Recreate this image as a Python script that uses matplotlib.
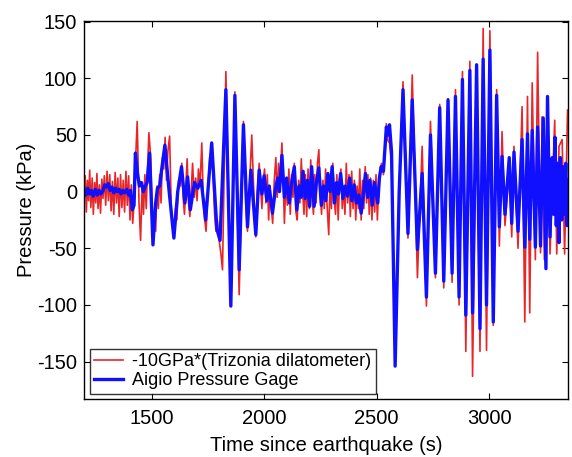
import matplotlib
matplotlib.use("Agg")
import matplotlib.pyplot as plt

plt.rcParams['font.family'] = ['Liberation Sans', 'DejaVu Sans']
plt.rcParams['axes.unicode_minus'] = False

# Aigio pressure gage (turning points: time s, pressure kPa)
gage_t = [1200, 1208, 1216, 1224, 1232, 1240, 1250, 1258, 1266, 1274, 1282, 1292, 1300, 1308,
          1316, 1324, 1332, 1340, 1348, 1356, 1364, 1372, 1380, 1390, 1398, 1406, 1414, 1422,
          1428, 1438, 1446, 1455, 1463, 1472, 1480, 1491, 1506, 1518, 1526, 1536, 1545, 1559,
          1578, 1599, 1616, 1633, 1648, 1660, 1672, 1690, 1705, 1720, 1740, 1767, 1790, 1804,
          1830, 1852, 1870, 1889, 1908, 1926, 1941, 1963, 1978, 1990, 2000, 2012, 2022, 2037,
          2050, 2060, 2068, 2079, 2090, 2100, 2112, 2122, 2134, 2145, 2156, 2164, 2173, 2182,
          2192, 2202, 2211, 2222, 2232, 2243, 2254, 2264, 2274, 2283, 2293, 2302, 2312, 2322,
          2330, 2340, 2350, 2360, 2370, 2380, 2390, 2400, 2410, 2421, 2431, 2442, 2450, 2460,
          2470, 2480, 2490, 2505, 2512, 2520, 2530, 2543, 2550, 2557, 2566, 2582, 2600, 2617,
          2639, 2658, 2681, 2702, 2721, 2739, 2761, 2780, 2798, 2817, 2835, 2850, 2866, 2881,
          2896, 2914, 2926, 2944, 2959, 2973, 2988, 3003, 3018, 3033, 3045, 3057, 3070, 3089,
          3100, 3110, 3128, 3146, 3158, 3170, 3180, 3191, 3205, 3215, 3228, 3240, 3252, 3259,
          3270, 3280, 3286, 3292, 3298, 3304, 3310, 3316, 3322, 3328, 3334, 3340, 3346, 3350]
gage_p = [2, -3, 3, -2, 1, -4, 2, -3, 1, -2, 0, 6, 4, 7,
          1, 4, -1, 3, 0, 2, -2, 1, -1, 2, -3, 1, -16, -12,
          34, 15, 5, 8, 0, 5, 8, 34, -47, -10, 3, 5, 20, 41,
          0, -41, 0, 22, -10, 13, -16, 8, 3, 10, -25, 43, -33, -43,
          90, -101, 85, -69, 59, -31, 19, -38, 19, -2, 14, -8, 5, -19,
          2, 12, 0, 32, -5, 12, -10, 8, 22, -16, 5, -5, 18, -6,
          10, -13, 22, -13, 8, 21, -12, 5, -8, 16, 0, 22, -10, 8,
          -2, 16, -6, 5, -4, 12, -8, 6, -10, -3, -19, 0, 16, -5,
          10, -12, 8, -10, 12, 22, 18, 57, 50, 59, 35, -154, 0, 90,
          -37, 81, -51, 16, -93, 50, -72, 74, -79, 81, -72, 84, -93, 99,
          -109, 107, -107, 112, -121, 117, -100, 125, -115, 85, -31, 31, -20, 30,
          -28, 35, -35, 46, -49, 51, -42, 54, -49, 57, -48, 65, -68, 84,
          -40, 30, -20, 48, -30, 25, -45, 30, -25, 22, -20, 25, -30, 10]

# Trizonia dilatometer scaled by -10 GPa (turning points: time s, pressure kPa)
dil_t = [1200, 1205, 1210, 1215, 1220, 1225, 1230, 1236, 1241, 1247, 1252, 1257, 1262, 1268,
         1273, 1279, 1284, 1290, 1296, 1302, 1308, 1314, 1320, 1326, 1332, 1338, 1344, 1350,
         1356, 1362, 1368, 1374, 1380, 1386, 1392, 1398, 1404, 1410, 1416, 1422, 1428, 1436,
         1444, 1451, 1458, 1464, 1470, 1476, 1482, 1488, 1496, 1506, 1512, 1518, 1524, 1530,
         1536, 1542, 1548, 1554, 1560, 1566, 1572, 1580, 1588, 1594, 1600, 1606, 1612, 1620,
         1628, 1634, 1640, 1646, 1652, 1658, 1664, 1670, 1676, 1682, 1690, 1696, 1702, 1708,
         1715, 1723, 1730, 1736, 1742, 1750, 1758, 1767, 1774, 1780, 1786, 1792, 1798, 1808,
         1815, 1830, 1852, 1870, 1889, 1908, 1918, 1926, 1934, 1945, 1952, 1958, 1963, 1970,
         1978, 1984, 1990, 1996, 2002, 2008, 2014, 2020, 2026, 2032, 2038, 2045, 2052, 2058,
         2064, 2070, 2079, 2086, 2090, 2097, 2103, 2110, 2116, 2122, 2128, 2134, 2141, 2147,
         2153, 2159, 2165, 2171, 2177, 2183, 2189, 2195, 2201, 2207, 2213, 2219, 2225, 2231,
         2237, 2243, 2249, 2255, 2261, 2267, 2273, 2279, 2287, 2293, 2299, 2305, 2311, 2317,
         2323, 2329, 2335, 2341, 2347, 2353, 2359, 2365, 2371, 2377, 2383, 2389, 2395, 2401,
         2407, 2413, 2419, 2425, 2431, 2437, 2443, 2449, 2455, 2461, 2467, 2473, 2479, 2485,
         2491, 2497, 2503, 2509, 2515, 2522, 2530, 2537, 2543, 2550, 2557, 2566, 2582, 2600,
         2617, 2639, 2658, 2681, 2702, 2721, 2739, 2761, 2780, 2798, 2817, 2835, 2850, 2866,
         2881, 2896, 2914, 2926, 2944, 2959, 2973, 2988, 3003, 3018, 3033, 3045, 3057, 3070,
         3089, 3100, 3110, 3128, 3146, 3158, 3170, 3180, 3191, 3205, 3215, 3228, 3235, 3245,
         3259, 3270, 3291, 3300, 3310, 3324, 3335, 3348]
dil_p = [-5, 14, -18, 10, -8, 19, -14, 12, -20, 8, -10, 16, -15, 6,
         -19, 11, -6, 14, -12, 18, -8, 15, -17, 9, -20, 17, -10, 12,
         -22, 15, -14, 10, -18, 18, -12, 14, -25, 6, -28, -10, 25, 62,
         -10, -43, 5, -20, 15, -15, 20, 52, 30, -45, -20, -35, 5, -15,
         15, -10, 30, 20, 48, 10, 35, 49, -20, -30, -40, -15, -25, 10,
         5, 25, -5, -20, 5, 29, -10, -22, 0, 25, -5, 12, -8, 20,
         5, 43, -10, -25, -35, 0, 30, 38, 10, -20, -35, -25, -40, -55,
         -69, 106, -100, 88, -91, 62, -10, -35, 0, 50, 10, -20, -40, 0,
         25, 5, -15, 10, 20, -10, 15, -25, 5, -15, -28, 10, 30, -5,
         25, 8, 43, 0, -28, 10, -12, 20, -20, 15, -5, 25, -18, -25,
         10, -10, 29, 0, -20, 15, -22, 20, -15, 28, -5, -20, 15, -10,
         25, 37, 0, -20, 10, -15, 20, -10, -38, 10, -15, 25, -5, -20,
         15, -25, 10, 20, -15, 5, -20, 25, -10, 15, -22, 18, -15, 10,
         -25, 5, -15, 20, -25, 10, -15, 22, -10, 15, -20, 12, -25, 10,
         -18, 15, -25, 5, 20, 25, 15, 35, 60, 45, 43, 25, -150, 0,
         97, -41, 103, -76, 40, -101, 62, -76, 77, -85, 82, -80, 90, -100,
         106, -141, 115, -163, 108, -141, 144, -140, 142, -118, 90, -48, 53, -30,
         20, -40, 40, -50, 75, -115, 84, -107, 96, -60, 123, -54, 66, -60,
         84, -55, 63, -55, 40, 46, -55, 72]

fig = plt.figure(figsize=(5.72, 4.57), dpi=100)
ax = fig.add_axes([0.147, 0.127, 0.846, 0.828])

ax.plot(dil_t, dil_p, color='#e8262a', lw=1.2, solid_joinstyle='round',
        label='-10GPa*(Trizonia dilatometer)')
ax.plot(gage_t, gage_p, color='#1010ff', lw=2.4, solid_joinstyle='round',
        label='Aigio Pressure Gage')

ax.set_xlim(1200, 3350)
ax.set_ylim(-183, 151)
ax.set_xticks([1500, 2000, 2500, 3000])
ax.set_yticks([-150, -100, -50, 0, 50, 100, 150])
ax.tick_params(direction='in', top=True, right=True, labelsize=14.5, length=4, width=0.8)
ax.tick_params(axis='x', pad=7)
ax.tick_params(axis='y', pad=5)
for s in ax.spines.values():
    s.set_linewidth(1.0)

ax.set_xlabel('Time since earthquake (s)', fontsize=14.5, labelpad=6)
ax.set_ylabel('Pressure (kPa)', fontsize=14.5, labelpad=1)

leg = ax.legend(loc='lower left', fontsize=13, frameon=True, fancybox=False,
                edgecolor='black', borderpad=0.25, handlelength=1.6, handletextpad=0.5,
                labelspacing=0.1, borderaxespad=0.3)
leg.get_frame().set_linewidth(1.0)

fig.savefig('out.png', dpi=100)
